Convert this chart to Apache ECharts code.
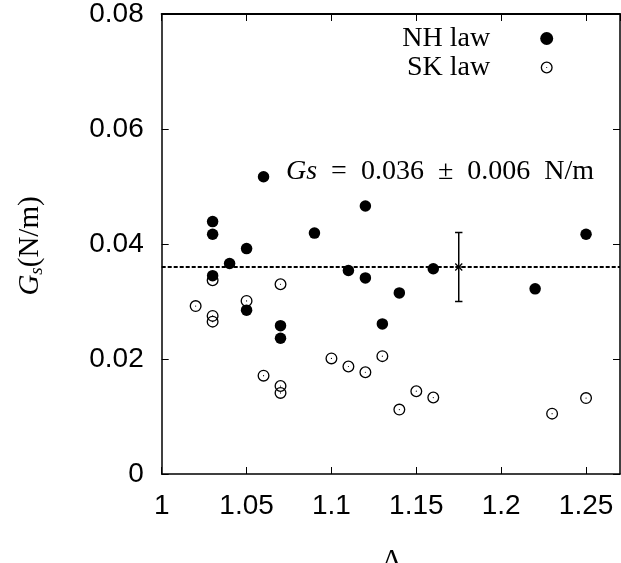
<!DOCTYPE html>
<html><head><meta charset="utf-8">
<script src="https://cdn.jsdelivr.net/npm/echarts@6/dist/echarts.min.js"></script>
<style>html,body{margin:0;padding:0;background:#fff}#c{width:621px;height:563px}</style>
</head><body><div id="c"></div>
<script>
// ---- data ----
const nhLambda = [1.03,1.03,1.03,1.04,1.05,1.05,1.06,1.07,1.07,1.09,1.11,1.12,1.12,1.13,1.14,1.16,1.22,1.25];
const nhGs     = [0.0439,0.0417,0.0345,0.0366,0.0392,0.0285,0.0517,0.0258,0.0236,0.0419,0.0354,0.0466,0.0341,0.0261,0.0315,0.0357,0.0322,0.0417];
const skLambda = [1.02,1.03,1.03,1.03,1.05,1.06,1.07,1.07,1.07,1.10,1.11,1.12,1.13,1.14,1.15,1.16,1.23,1.25];
const skGs     = [0.0292,0.0337,0.0275,0.0265,0.0301,0.0171,0.0330,0.0153,0.0141,0.0201,0.0187,0.0177,0.0205,0.0112,0.0144,0.0133,0.0105,0.0132];
const meanGs = 0.036;
const errGs = 0.006;
const errLambda = 1.175;
const xTickLabels = ['1','1.05','1.1','1.15','1.2','1.25'];
const yTickLabels = ['0','0.02','0.04','0.06','0.08'];
const seriesNames = ['NH law','SK law'];

const zip = (a, b) => a.map((v, i) => [v, b[i]]);
const lookup = (arr) => (v) => arr.find(t => Math.abs(parseFloat(t) - v) < 1e-9) || '';

const ringPath = 'path://M0,50 A50,50 0 1,1 100,50 A50,50 0 1,1 0,50 Z M11,50 A39,39 0 1,0 89,50 A39,39 0 1,0 11,50 Z M45,50 A5,5 0 1,1 55,50 A5,5 0 1,1 45,50 Z';

const serif = 'Liberation Serif';
const sans = 'Liberation Sans';

const axisCommon = {
  type: 'value',
  axisLine: { onZero: false, lineStyle: { color: '#000', width: 1.5 } },
  axisTick: { inside: true, length: 7, lineStyle: { color: '#000', width: 1 } },
  splitLine: { show: false }
};

const chart = echarts.init(document.getElementById('c'));
chart.setOption({
  animation: false,
  backgroundColor: '#fff',
  grid: { left: 161.7, right: 1, top: 14, bottom: 89, containLabel: false },
  xAxis: [
    Object.assign({}, axisCommon, {
      min: 1, max: 1.27, interval: 0.05, position: 'bottom',
      axisLabel: { formatter: lookup(xTickLabels), color: '#000', fontFamily: sans, fontSize: 28, margin: 18, showMaxLabel: false }
    }),
    Object.assign({}, axisCommon, {
      min: 1, max: 1.27, interval: 0.05, position: 'top',
      axisLine: { onZero: false, lineStyle: { color: '#000', width: 2 } },
      axisLabel: { show: false }
    })
  ],
  yAxis: [
    Object.assign({}, axisCommon, {
      min: 0, max: 0.08, interval: 0.02, position: 'left',
      axisLabel: { formatter: lookup(yTickLabels), color: '#000', fontFamily: sans, fontSize: 28, margin: 18 }
    }),
    Object.assign({}, axisCommon, {
      min: 0, max: 0.08, interval: 0.02, position: 'right',
      axisLabel: { show: false }
    })
  ],
  legend: [
    { data: [seriesNames[0]], orient: 'vertical', right: 67.8, top: 24.5, align: 'right', padding: 0,
      itemWidth: 103, itemHeight: 13, selectedMode: false,
      textStyle: { fontFamily: serif, fontSize: 28, color: '#000' } },
    { data: [seriesNames[1]], orient: 'vertical', right: 68.3, top: 53.5, align: 'right', padding: 0,
      itemWidth: 103, itemHeight: 12, selectedMode: false, symbolKeepAspect: true,
      textStyle: { fontFamily: serif, fontSize: 28, color: '#000' } }
  ],
  graphic: [
    { type: 'text', x: 286, y: 172,
      style: { text: '{i|Gs}{r|  =  0.036  ±  0.006  N/m}', align: 'left', verticalAlign: 'middle', fill: '#000',
        rich: { i: { fontFamily: serif, fontSize: 28, fontStyle: 'italic', fill: '#000' },
                r: { fontFamily: serif, fontSize: 28, fill: '#000' } } } },
    { type: 'text', x: 30, y: 246, rotation: Math.PI / 2,
      style: { text: '{i|G}{s|s}{r|(N/m)}', align: 'center', verticalAlign: 'middle', fill: '#000',
        rich: { i: { fontFamily: serif, fontSize: 29, fontStyle: 'italic', lineHeight: 32, fill: '#000' },
                s: { fontFamily: serif, fontSize: 19, fontStyle: 'italic', lineHeight: 16, verticalAlign: 'bottom', fill: '#000' },
                r: { fontFamily: serif, fontSize: 29, lineHeight: 32, fill: '#000' } } } },
    { type: 'text', x: 392, y: 561,
      style: { text: 'Λ', fontFamily: serif, fontSize: 28, align: 'center', verticalAlign: 'middle', fill: '#000' } }
  ],
  series: [
    { name: seriesNames[0], type: 'scatter', xAxisIndex: 0, yAxisIndex: 0,
      data: zip(nhLambda, nhGs), symbol: 'circle', symbolSize: 11.5,
      itemStyle: { color: '#000', opacity: 1 },
      markLine: { silent: true, precision: 4, symbol: ['none', 'none'], label: { show: false },
        lineStyle: { color: '#000', width: 2, type: [4, 2], opacity: 1 },
        data: [{ yAxis: meanGs }] } },
    { name: seriesNames[1], type: 'scatter', xAxisIndex: 0, yAxisIndex: 0,
      data: zip(skLambda, skGs), symbol: ringPath, symbolSize: 12, symbolKeepAspect: true,
      itemStyle: { color: '#000', opacity: 1 } },
    { name: 'mean', type: 'custom', xAxisIndex: 0, yAxisIndex: 0,
      data: [[errLambda, meanGs, errGs]], encode: { x: 0, y: 1 }, z: 5,
      renderItem: (params, api) => {
        const x = api.value(0), y = api.value(1), e = api.value(2);
        const c = api.coord([x, y]);
        const lo = api.coord([x, y - e]);
        const hi = api.coord([x, y + e]);
        const cw = 3.7, s = 3.5;
        const st = { stroke: '#000', lineWidth: 1.5 };
        const st2 = { stroke: '#000', lineWidth: 1.3 };
        return { type: 'group', children: [
          { type: 'line', shape: { x1: lo[0], y1: lo[1], x2: hi[0], y2: hi[1] }, style: st },
          { type: 'line', shape: { x1: lo[0] - cw, y1: lo[1], x2: lo[0] + cw, y2: lo[1] }, style: st },
          { type: 'line', shape: { x1: hi[0] - cw, y1: hi[1], x2: hi[0] + cw, y2: hi[1] }, style: st },
          { type: 'line', shape: { x1: c[0] - s, y1: c[1] - s, x2: c[0] + s, y2: c[1] + s }, style: st2 },
          { type: 'line', shape: { x1: c[0] - s, y1: c[1] + s, x2: c[0] + s, y2: c[1] - s }, style: st2 },
          { type: 'line', shape: { x1: c[0] - s, y1: c[1], x2: c[0] + s, y2: c[1] }, style: st2 }
        ] };
      } }
  ]
});
</script>
</body></html>
